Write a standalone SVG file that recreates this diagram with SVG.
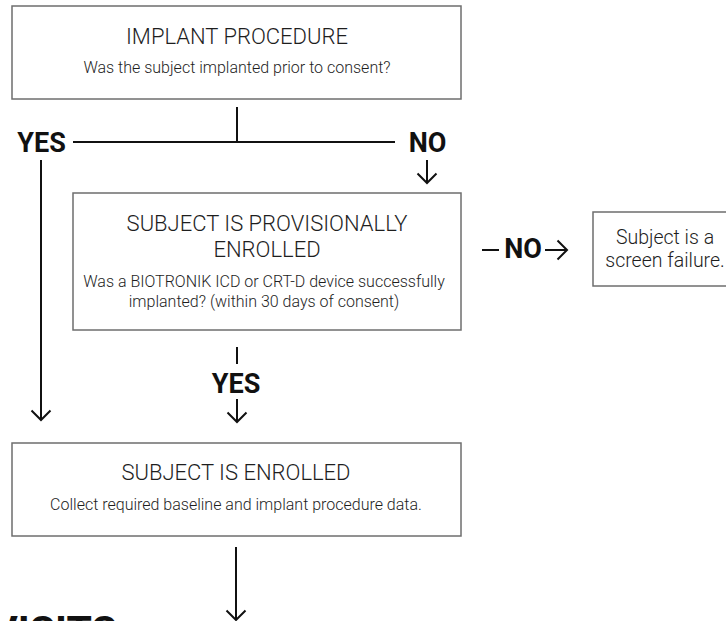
<svg xmlns="http://www.w3.org/2000/svg" width="726" height="621" viewBox="0 0 726 621">
<style>
.box{fill:#fff;stroke:#6e6e6e;stroke-width:1.5}
.t{font-family:Roboto,"Liberation Sans",sans-serif;font-weight:300;fill:#1e1e1e;text-anchor:middle}
.h{font-size:22px}
.s{font-size:16px}
.lbl{font-family:Roboto,"Liberation Sans",sans-serif;font-weight:700;font-size:27px;fill:#111;text-anchor:middle}
.c{fill:none;stroke:#111;stroke-width:2}
</style>
<defs>
<marker id="ah" markerUnits="userSpaceOnUse" viewBox="-12 -12 14 24" refX="0" refY="0" markerWidth="14" markerHeight="24" orient="auto" overflow="visible">
<path d="M-9.5,-9.5 L0,0 L-9.5,9.5" fill="none" stroke="#111" stroke-width="2"/>
</marker>
</defs>
<rect width="726" height="621" fill="#fff"/>
<g id="implant">
<rect class="box" x="12" y="6" width="449" height="93"/>
<text class="t h" x="237" y="44">IMPLANT PROCEDURE</text>
<text class="t s" x="237" y="73">Was the subject implanted prior to consent?</text>
</g>
<g id="provisional">
<rect class="box" x="73" y="193" width="388" height="137"/>
<text class="t h" x="267" y="231">SUBJECT IS PROVISIONALLY</text>
<text class="t h" x="267" y="257">ENROLLED</text>
<text class="t s" x="264" y="287">Was a BIOTRONIK ICD or CRT-D device successfully</text>
<text class="t s" x="264" y="307">implanted? (within 30 days of consent)</text>
</g>
<g id="failure">
<rect class="box" x="593" y="212" width="160" height="74"/>
<text class="t" style="font-size:19.5px" x="665" y="244">Subject is a</text>
<text class="t" style="font-size:19.5px" x="665" y="267">screen failure.</text>
</g>
<g id="enrolled">
<rect class="box" x="12" y="443" width="449" height="93"/>
<text class="t h" x="236" y="480">SUBJECT IS ENROLLED</text>
<text class="t s" x="236" y="510">Collect required baseline and implant procedure data.</text>
</g>
<g id="visits">
<text x="-9" y="645" style="font-family:Roboto,'Liberation Sans',sans-serif;font-weight:700;font-size:41px;fill:#111">VISITS</text>
</g>
<g id="connectors">
<line class="c" x1="237" y1="107" x2="237" y2="142"/>
<line class="c" x1="73" y1="142" x2="395" y2="142"/>
<text class="lbl" x="41.5" y="152">YES</text>
<text class="lbl" x="427.5" y="152">NO</text>
<line class="c" x1="427" y1="160" x2="427" y2="183" marker-end="url(#ah)"/>
<line class="c" x1="41" y1="160" x2="41" y2="420" marker-end="url(#ah)"/>
<line class="c" x1="237" y1="347" x2="237" y2="364"/>
<text class="lbl" x="236" y="393">YES</text>
<line class="c" x1="237" y1="399" x2="237" y2="422" marker-end="url(#ah)"/>
<line class="c" x1="482" y1="250" x2="499" y2="250"/>
<text class="lbl" x="523" y="258">NO</text>
<line class="c" x1="545" y1="250" x2="567" y2="250" marker-end="url(#ah)"/>
<line class="c" x1="236" y1="547" x2="236" y2="620" marker-end="url(#ah)"/>
</g>
</svg>
